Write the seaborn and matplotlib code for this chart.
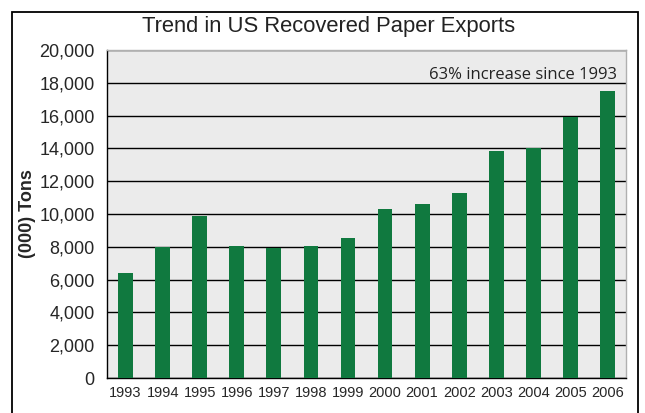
import pandas as pd
import numpy as np
import matplotlib.pyplot as plt
import seaborn as sns
from matplotlib.patches import Rectangle

years = ['1993', '1994', '1995', '1996', '1997', '1998', '1999',
         '2000', '2001', '2002', '2003', '2004', '2005', '2006']
tons = [6400, 7970, 9900, 8060, 7900, 8070, 8520,
        10300, 10600, 11260, 13820, 14000, 15900, 17480]

df = pd.DataFrame({'year': years, 'tons': tons})

sns.set_style('white')
plt.rcParams['font.family'] = ['Liberation Sans', 'DejaVu Sans']

fig = plt.figure(figsize=(6.45, 4.13), dpi=100)
ax = fig.add_axes([0.166, 0.0847, 0.8045, 0.7943])

sns.barplot(data=df, x='year', y='tons', color='#10793f', width=0.4,
            saturation=1, linewidth=0, ax=ax, zorder=3)

ax.set_facecolor('#ebebeb')
ax.set_ylim(0, 20000)
ax.set_xlim(-0.5, len(years) - 0.5)
ax.set_yticks(np.arange(0, 20001, 2000))
ax.set_yticklabels([f'{v:,}' for v in range(0, 20001, 2000)], fontsize=13)
ax.yaxis.grid(True, color='black', linewidth=1, zorder=1)
ax.set_axisbelow(True)

# ticks between categories on the x axis
ax.set_xticks(np.arange(len(years)))
ax.set_xticklabels(years, fontsize=10.5)
ax.set_xticks(np.arange(-0.5, len(years), 1), minor=True)
ax.tick_params(axis='x', which='major', length=0, pad=6)
ax.tick_params(axis='x', which='minor', length=5, width=1, color='black', direction='out')
ax.tick_params(axis='y', length=7, width=1, color='black', direction='out', pad=2)

ax.set_xlabel('')
ax.set_ylabel('(000) Tons', fontsize=13, fontweight='bold', labelpad=2)

for side in ['left', 'bottom']:
    ax.spines[side].set_color('black')
    ax.spines[side].set_linewidth(1)
for side in ['top', 'right']:
    ax.spines[side].set_color('#b0b0b0')
    ax.spines[side].set_linewidth(1)

ax.text(0.983, 18450, '63% increase since 1993', transform=ax.get_yaxis_transform(),
        ha='right', va='center', fontsize=12, family=['Open Sans', 'DejaVu Sans'],
        color='#222222')

fig.text(0.509, 0.937, 'Trend in US Recovered Paper Exports', ha='center', va='center',
         fontsize=15.8, color='#222222')

# outer frame around the whole chart
fig.patches.append(Rectangle((12 / 645, -0.1), 626 / 645, 1 - 12 / 413 + 0.1,
                             transform=fig.transFigure, fill=False,
                             edgecolor='black', linewidth=1.3))

fig.savefig('out.png', dpi=100)
